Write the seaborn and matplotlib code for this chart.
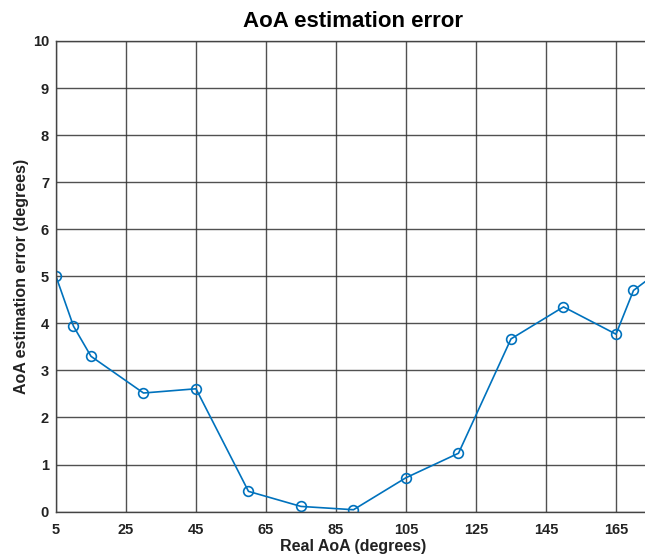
import pandas as pd
import seaborn as sns
import matplotlib.pyplot as plt

# Values
real_aoa = [5, 10, 15, 30, 45, 60, 75, 90, 105, 120, 135, 150, 165, 170, 175]
aoa_error = [5.0, 3.94, 3.30, 2.52, 2.61, 0.43, 0.11, 0.04, 0.72, 1.24, 3.67, 4.35, 3.77, 4.70, 4.98]
x_ticks = [5, 25, 45, 65, 85, 105, 125, 145, 165]
y_ticks = list(range(0, 11))

df = pd.DataFrame({'real_aoa': real_aoa, 'aoa_error': aoa_error})

sns.set_style('white')
plt.rcParams['font.family'] = ['Liberation Sans', 'DejaVu Sans']
plt.rcParams['font.weight'] = 'bold'

fig = plt.figure(figsize=(6.45, 5.57), dpi=100)
# axes run past the right edge of the figure, as in the reference
ax = fig.add_axes([0.0868, 0.0815, 0.9225, 0.8449])

sns.lineplot(
    data=df,
    x='real_aoa',
    y='aoa_error',
    ax=ax,
    color='#0072BD',
    linewidth=1.2,
    marker='o',
    markersize=7,
    markerfacecolor='none',
    markeredgecolor='#0072BD',
    markeredgewidth=1.2,
)

ax.set_xlim(5, 175)
ax.set_ylim(0, 10)
ax.set_xticks(x_ticks)
ax.set_yticks(y_ticks)
ax.grid(True, color='#333333', linewidth=1.0, alpha=0.85)
ax.set_axisbelow(True)
for spine in ax.spines.values():
    spine.set_color('#444444')
    spine.set_linewidth(1.0)
ax.tick_params(axis='x', direction='in', length=4, labelsize=10.5, colors='#222222', pad=8)
ax.tick_params(axis='y', direction='in', length=4, labelsize=10.5, colors='#222222', pad=5)
for label in ax.get_xticklabels() + ax.get_yticklabels():
    label.set_fontweight('bold')

ax.set_title('AoA estimation error', fontsize=16, fontweight='bold', color='black', pad=10)
ax.set_xlabel('Real AoA (degrees)', fontsize=11.5, fontweight='bold', color='#222222', labelpad=2)
ax.set_ylabel('AoA estimation error (degrees)', fontsize=11.5, fontweight='bold', color='#222222')
ax.yaxis.set_label_coords(-0.045, 0.5)

plt.savefig('out.png', dpi=100)
plt.close()
